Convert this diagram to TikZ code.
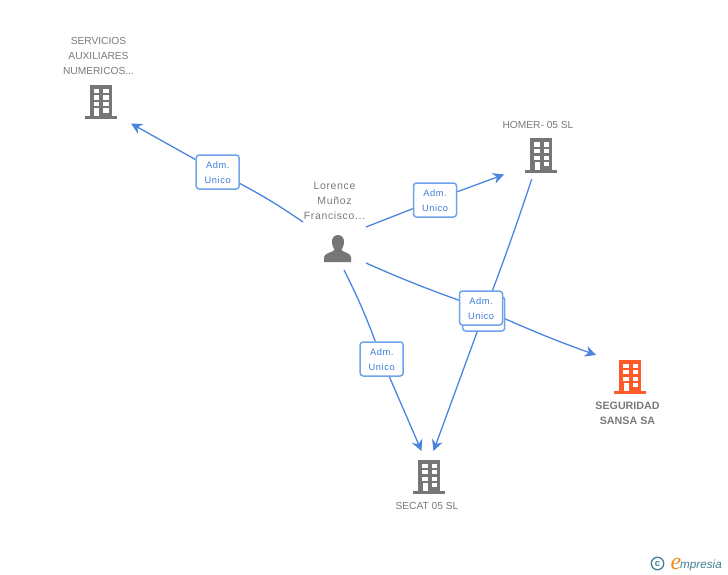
\documentclass[tikz,border=0pt]{standalone}
\usepackage{fontspec}
\setmainfont{Liberation Sans}
\newfontfamily\spaced[LetterSpace=6]{Liberation Sans}
\newfontfamily\logofont{Liberation Sans}
\newfontfamily\logoefont{Liberation Serif}
\usetikzlibrary{arrows.meta,backgrounds}
\definecolor{linkblue}{HTML}{4A86E0}
\definecolor{boxblue}{HTML}{6FA3EA}
\definecolor{txtblue}{HTML}{3C7BD8}
\definecolor{icongrey}{HTML}{767676}
\definecolor{txtgrey}{HTML}{7A7A7A}
\definecolor{hot}{HTML}{FF5A2C}
\definecolor{teal2}{HTML}{3F7F96}
\definecolor{logoorange}{HTML}{F08A1E}
\newcommand\admtxt{\rule{0pt}{8.5pt}Adm.\\Unico}
\tikzset{
  x=1pt,y=-1pt,
  conn/.style={draw=linkblue,line width=1.3pt},
  arr/.style={conn,-{Stealth[length=11pt,width=11pt,inset=3.5pt]}},
  admbox/.style={draw=boxblue,fill=white,line width=1.5pt,rounded corners=3pt,minimum width=43pt,minimum height=34pt,
    inner sep=0pt,text=txtblue,font=\spaced\fontsize{9.3}{15.5}\selectfont,align=center},
  admback/.style={draw=boxblue,fill=white,line width=1.5pt,rounded corners=3pt,minimum width=42pt,minimum height=34pt,inner sep=0pt},
  lab/.style={text=txtgrey,font=\fontsize{10.2}{15}\selectfont,align=center,inner sep=0pt},
  plab/.style={text=txtgrey,font=\spaced\fontsize{10.5}{15}\selectfont,align=center,inner sep=0pt},
  blab/.style={text=txtgrey,font=\bfseries\fontsize{10.7}{15}\selectfont,align=center,inner sep=0pt},
  pics/bldg/.style={code={
    \fill[#1] (-11,-34) rectangle (11,-2);
    \fill[#1] (-16,-3) rectangle (16,0);
    \foreach \yy in {-30,-23.7,-17} {
      \fill[white] (-7,\yy) rectangle (-1.5,{\yy+4.4});
      \fill[white] (2.5,\yy) rectangle (8,{\yy+4.4});
    }
    \fill[white] (2.5,-11) rectangle (8,-6.2);
    \fill[white] (-6.5,-11) rectangle (-1.5,-2.5);
  }},
}
\begin{document}
\begin{tikzpicture}
\useasboundingbox (0,0) rectangle (728,575);
\begin{scope}[on background layer]
  \fill[white] (0,0) rectangle (728,575);
\end{scope}

% buildings
\pic at (100.5,119) {bldg=icongrey};
\pic at (541,172.5) {bldg=icongrey};
\pic at (630,393.5) {bldg=hot};
\pic at (429,493.5) {bldg=icongrey};

% person
\fill[icongrey] (338,235) .. controls (333.5,235) and (331.5,239) .. (332,243)
  .. controls (332.5,246.5) and (334,248.5) .. (334.5,250)
  .. controls (333,252.5) and (325,252.5) .. (324,257) -- (324,262) -- (351,262) -- (351,257)
  .. controls (350.5,252.5) and (343,252.5) .. (341.5,250)
  .. controls (342,248.5) and (343.5,246.5) .. (344,243)
  .. controls (344.5,239) and (342.5,235) .. (338,235) -- cycle;

% labels
\node[lab] (servicios) at (98.5,56) {SERVICIOS\\AUXILIARES\\NUMERICOS...};
\node[lab] (homer) at (538,125) {HOMER- 05 SL};
\node[plab] (lorence) at (334.5,201) {Lorence\\Muñoz\\Francisco...};
\node[blab] (seguridad) at (627.5,413.5) {SEGURIDAD\\SANSA SA};
\node[lab] (secat) at (427,506) {SECAT 05 SL};

% boxes
\node[admback] (back3) at (483.7,314) {};
\node[admbox] (box1) at (217.7,172) {\admtxt};
\node[admbox] (box2) at (435,200) {\admtxt};
\node[admbox] (box3) at (481,308) {\admtxt};
\node[admbox] (box4) at (381.7,359) {\admtxt};

% free ends
\coordinate (s1) at (303,222);
\coordinate (e1) at (131,123.5);
\coordinate (s2) at (366,227);
\coordinate (e2) at (504,174.5);
\coordinate (s3) at (366,263);
\coordinate (e3) at (596,355);
\coordinate (s4) at (344,270);
\coordinate (e4) at (421.5,451);
\coordinate (s5) at (531.7,179.3);
\coordinate (e5) at (433.5,451);

\begin{scope}[on background layer]
  \draw[conn] (s1) to[bend right=3] (box1);
  \draw[arr] (box1) -- (e1);
  \draw[conn] (s2) -- (box2);
  \draw[arr] (box2) -- (e2);
  \draw[conn] (s3) to[bend right=2] (box3);
  \draw[arr] (box3) to[bend right=2] (e3);
  \draw[conn] (s4) to[bend left=3] (box4);
  \draw[arr] (box4) -- (e4);
  \draw[conn] (s5) to[bend left=1] (back3);
  \draw[arr] (back3) -- (e5);
\end{scope}

% logo
\node[circle,draw=teal2,line width=1.3pt,minimum size=12.5pt,inner sep=0pt,text=teal2,font=\bfseries\fontsize{9.5}{9.5}\selectfont] (copyr) at (657.5,563.5) {c};
\node[anchor=base west,inner sep=0pt,text=logoorange,font=\logoefont\itshape\fontsize{24}{24}\selectfont] (logoe) at (670.5,569) {e};
\node[anchor=base west,inner sep=0pt,text=teal2,font=\logofont\itshape\fontsize{11.7}{14}\selectfont] (logot) at (680,568) {mpresia};
\end{tikzpicture}
\end{document}
